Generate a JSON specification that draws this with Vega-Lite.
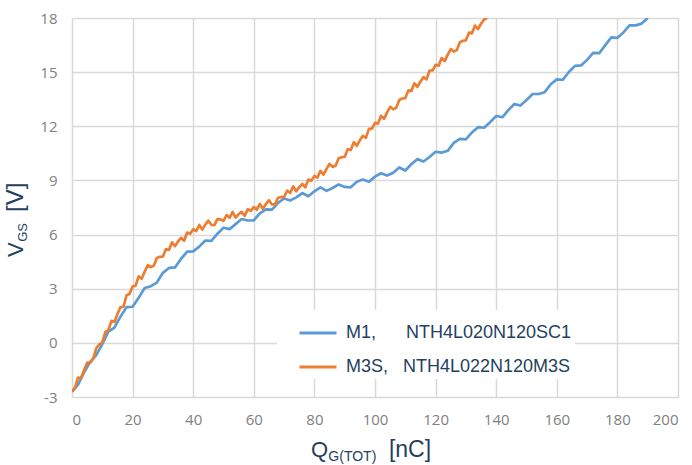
{
  "$schema": "https://vega.github.io/schema/vega-lite/v6.json",
  "width": 606,
  "height": 379,
  "autosize": {"type": "none"},
  "padding": {"left": 72, "top": 18, "right": 14, "bottom": 68},
  "background": "white",
  "config": {"view": {"stroke": null}, "font": "Liberation Sans"},
  "datasets": {
    "curves": [
      {"q":0,"v":-2.7,"s":"M1"},{"q":2,"v":-2.32,"s":"M1"},{"q":4,"v":-1.64,"s":"M1"},{"q":6,"v":-1.05,"s":"M1"},{"q":8,"v":-0.68,"s":"M1"},{"q":10,"v":-0.07,"s":"M1"},{"q":12,"v":0.62,"s":"M1"},{"q":14,"v":0.85,"s":"M1"},{"q":16,"v":1.45,"s":"M1"},{"q":18,"v":1.98,"s":"M1"},
      {"q":20,"v":2.0,"s":"M1"},{"q":22,"v":2.5,"s":"M1"},{"q":24,"v":3.04,"s":"M1"},{"q":26,"v":3.14,"s":"M1"},{"q":28,"v":3.34,"s":"M1"},{"q":30,"v":3.88,"s":"M1"},{"q":32,"v":4.15,"s":"M1"},{"q":34,"v":4.18,"s":"M1"},{"q":36,"v":4.66,"s":"M1"},{"q":38,"v":5.05,"s":"M1"},
      {"q":40,"v":5.07,"s":"M1"},{"q":42,"v":5.33,"s":"M1"},{"q":44,"v":5.67,"s":"M1"},{"q":46,"v":5.65,"s":"M1"},{"q":48,"v":6.05,"s":"M1"},{"q":50,"v":6.38,"s":"M1"},{"q":52,"v":6.3,"s":"M1"},{"q":54,"v":6.58,"s":"M1"},{"q":56,"v":6.86,"s":"M1"},{"q":58,"v":6.78,"s":"M1"},
      {"q":60,"v":6.79,"s":"M1"},{"q":62,"v":7.18,"s":"M1"},{"q":64,"v":7.4,"s":"M1"},{"q":66,"v":7.38,"s":"M1"},{"q":68,"v":7.76,"s":"M1"},{"q":70,"v":8.0,"s":"M1"},{"q":72,"v":7.89,"s":"M1"},{"q":74,"v":8.06,"s":"M1"},{"q":76,"v":8.3,"s":"M1"},{"q":78,"v":8.12,"s":"M1"},
      {"q":80,"v":8.4,"s":"M1"},{"q":82,"v":8.62,"s":"M1"},{"q":84,"v":8.42,"s":"M1"},{"q":86,"v":8.58,"s":"M1"},{"q":88,"v":8.78,"s":"M1"},{"q":90,"v":8.64,"s":"M1"},{"q":92,"v":8.62,"s":"M1"},{"q":94,"v":8.93,"s":"M1"},{"q":96,"v":9.05,"s":"M1"},{"q":98,"v":8.93,"s":"M1"},
      {"q":100,"v":9.21,"s":"M1"},{"q":102,"v":9.4,"s":"M1"},{"q":104,"v":9.27,"s":"M1"},{"q":106,"v":9.43,"s":"M1"},{"q":108,"v":9.72,"s":"M1"},{"q":110,"v":9.55,"s":"M1"},{"q":112,"v":9.9,"s":"M1"},{"q":114,"v":10.18,"s":"M1"},{"q":116,"v":10.05,"s":"M1"},{"q":118,"v":10.3,"s":"M1"},
      {"q":120,"v":10.59,"s":"M1"},{"q":122,"v":10.54,"s":"M1"},{"q":124,"v":10.64,"s":"M1"},{"q":126,"v":11.08,"s":"M1"},{"q":128,"v":11.3,"s":"M1"},{"q":130,"v":11.28,"s":"M1"},{"q":132,"v":11.66,"s":"M1"},{"q":134,"v":11.95,"s":"M1"},{"q":136,"v":11.92,"s":"M1"},{"q":138,"v":12.23,"s":"M1"},
      {"q":140,"v":12.57,"s":"M1"},{"q":142,"v":12.5,"s":"M1"},{"q":144,"v":12.9,"s":"M1"},{"q":146,"v":13.23,"s":"M1"},{"q":148,"v":13.15,"s":"M1"},{"q":150,"v":13.45,"s":"M1"},{"q":152,"v":13.79,"s":"M1"},{"q":154,"v":13.79,"s":"M1"},{"q":156,"v":13.89,"s":"M1"},{"q":158,"v":14.33,"s":"M1"},
      {"q":160,"v":14.6,"s":"M1"},{"q":162,"v":14.58,"s":"M1"},{"q":164,"v":15.01,"s":"M1"},{"q":166,"v":15.35,"s":"M1"},{"q":168,"v":15.37,"s":"M1"},{"q":170,"v":15.68,"s":"M1"},{"q":172,"v":16.07,"s":"M1"},{"q":174,"v":16.05,"s":"M1"},{"q":176,"v":16.5,"s":"M1"},{"q":178,"v":16.93,"s":"M1"},
      {"q":180,"v":16.9,"s":"M1"},{"q":182,"v":17.2,"s":"M1"},{"q":184,"v":17.59,"s":"M1"},{"q":186,"v":17.59,"s":"M1"},{"q":188,"v":17.69,"s":"M1"},{"q":190,"v":18.0,"s":"M1"},
      {"q":0,"v":-2.7,"s":"M3S"},{"q":1,"v":-2.48,"s":"M3S"},{"q":2,"v":-1.92,"s":"M3S"},{"q":3,"v":-1.95,"s":"M3S"},{"q":4,"v":-1.5,"s":"M3S"},{"q":5,"v":-1.1,"s":"M3S"},{"q":6,"v":-1.1,"s":"M3S"},{"q":7,"v":-0.88,"s":"M3S"},{"q":8,"v":-0.3,"s":"M3S"},{"q":9,"v":-0.08,"s":"M3S"},
      {"q":10,"v":0.03,"s":"M3S"},{"q":11,"v":0.6,"s":"M3S"},{"q":12,"v":0.7,"s":"M3S"},{"q":13,"v":1.22,"s":"M3S"},{"q":14,"v":1.16,"s":"M3S"},{"q":15,"v":1.6,"s":"M3S"},{"q":16,"v":1.98,"s":"M3S"},{"q":17,"v":2.0,"s":"M3S"},{"q":18,"v":2.63,"s":"M3S"},{"q":19,"v":2.72,"s":"M3S"},
      {"q":20,"v":3.12,"s":"M3S"},{"q":21,"v":3.17,"s":"M3S"},{"q":22,"v":3.68,"s":"M3S"},{"q":23,"v":3.55,"s":"M3S"},{"q":24,"v":3.95,"s":"M3S"},{"q":25,"v":4.3,"s":"M3S"},{"q":26,"v":4.2,"s":"M3S"},{"q":27,"v":4.27,"s":"M3S"},{"q":28,"v":4.7,"s":"M3S"},{"q":29,"v":4.77,"s":"M3S"},
      {"q":30,"v":4.78,"s":"M3S"},{"q":31,"v":5.2,"s":"M3S"},{"q":32,"v":5.15,"s":"M3S"},{"q":33,"v":5.57,"s":"M3S"},{"q":34,"v":5.36,"s":"M3S"},{"q":35,"v":5.62,"s":"M3S"},{"q":36,"v":5.82,"s":"M3S"},{"q":37,"v":5.66,"s":"M3S"},{"q":38,"v":6.11,"s":"M3S"},{"q":39,"v":6.05,"s":"M3S"},
      {"q":40,"v":6.3,"s":"M3S"},{"q":41,"v":6.19,"s":"M3S"},{"q":42,"v":6.53,"s":"M3S"},{"q":43,"v":6.28,"s":"M3S"},{"q":44,"v":6.55,"s":"M3S"},{"q":45,"v":6.77,"s":"M3S"},{"q":46,"v":6.54,"s":"M3S"},{"q":47,"v":6.52,"s":"M3S"},{"q":48,"v":6.86,"s":"M3S"},{"q":49,"v":6.84,"s":"M3S"},
      {"q":50,"v":6.76,"s":"M3S"},{"q":51,"v":7.08,"s":"M3S"},{"q":52,"v":6.93,"s":"M3S"},{"q":53,"v":7.25,"s":"M3S"},{"q":54,"v":6.94,"s":"M3S"},{"q":55,"v":7.13,"s":"M3S"},{"q":56,"v":7.26,"s":"M3S"},{"q":57,"v":7.03,"s":"M3S"},{"q":58,"v":7.41,"s":"M3S"},{"q":59,"v":7.31,"s":"M3S"},
      {"q":60,"v":7.52,"s":"M3S"},{"q":61,"v":7.38,"s":"M3S"},{"q":62,"v":7.7,"s":"M3S"},{"q":63,"v":7.43,"s":"M3S"},{"q":64,"v":7.69,"s":"M3S"},{"q":65,"v":7.9,"s":"M3S"},{"q":66,"v":7.67,"s":"M3S"},{"q":67,"v":7.67,"s":"M3S"},{"q":68,"v":8.04,"s":"M3S"},{"q":69,"v":8.08,"s":"M3S"},
      {"q":70,"v":8.08,"s":"M3S"},{"q":71,"v":8.43,"s":"M3S"},{"q":72,"v":8.31,"s":"M3S"},{"q":73,"v":8.67,"s":"M3S"},{"q":74,"v":8.4,"s":"M3S"},{"q":75,"v":8.63,"s":"M3S"},{"q":76,"v":8.8,"s":"M3S"},{"q":77,"v":8.62,"s":"M3S"},{"q":78,"v":9.05,"s":"M3S"},{"q":79,"v":8.99,"s":"M3S"},
      {"q":80,"v":9.25,"s":"M3S"},{"q":81,"v":9.16,"s":"M3S"},{"q":82,"v":9.53,"s":"M3S"},{"q":83,"v":9.32,"s":"M3S"},{"q":84,"v":9.64,"s":"M3S"},{"q":85,"v":9.91,"s":"M3S"},{"q":86,"v":9.75,"s":"M3S"},{"q":87,"v":9.81,"s":"M3S"},{"q":88,"v":10.23,"s":"M3S"},{"q":89,"v":10.29,"s":"M3S"},
      {"q":90,"v":10.3,"s":"M3S"},{"q":91,"v":10.73,"s":"M3S"},{"q":92,"v":10.69,"s":"M3S"},{"q":93,"v":11.12,"s":"M3S"},{"q":94,"v":10.92,"s":"M3S"},{"q":95,"v":11.22,"s":"M3S"},{"q":96,"v":11.47,"s":"M3S"},{"q":97,"v":11.36,"s":"M3S"},{"q":98,"v":11.86,"s":"M3S"},{"q":99,"v":11.87,"s":"M3S"},
      {"q":100,"v":12.19,"s":"M3S"},{"q":101,"v":12.15,"s":"M3S"},{"q":102,"v":12.58,"s":"M3S"},{"q":103,"v":12.41,"s":"M3S"},{"q":104,"v":12.77,"s":"M3S"},{"q":105,"v":13.08,"s":"M3S"},{"q":106,"v":12.94,"s":"M3S"},{"q":107,"v":13.02,"s":"M3S"},{"q":108,"v":13.46,"s":"M3S"},{"q":109,"v":13.54,"s":"M3S"},
      {"q":110,"v":13.56,"s":"M3S"},{"q":111,"v":13.99,"s":"M3S"},{"q":112,"v":13.95,"s":"M3S"},{"q":113,"v":14.38,"s":"M3S"},{"q":114,"v":14.18,"s":"M3S"},{"q":115,"v":14.48,"s":"M3S"},{"q":116,"v":14.72,"s":"M3S"},{"q":117,"v":14.6,"s":"M3S"},{"q":118,"v":15.09,"s":"M3S"},{"q":119,"v":15.09,"s":"M3S"},
      {"q":120,"v":15.4,"s":"M3S"},{"q":121,"v":15.36,"s":"M3S"},{"q":122,"v":15.78,"s":"M3S"},{"q":123,"v":15.61,"s":"M3S"},{"q":124,"v":15.97,"s":"M3S"},{"q":125,"v":16.28,"s":"M3S"},{"q":126,"v":16.14,"s":"M3S"},{"q":127,"v":16.22,"s":"M3S"},{"q":128,"v":16.66,"s":"M3S"},{"q":129,"v":16.74,"s":"M3S"},
      {"q":130,"v":16.76,"s":"M3S"},{"q":131,"v":17.19,"s":"M3S"},{"q":132,"v":17.15,"s":"M3S"},{"q":133,"v":17.58,"s":"M3S"},{"q":134,"v":17.38,"s":"M3S"},{"q":135,"v":17.68,"s":"M3S"},{"q":136,"v":17.92,"s":"M3S"},{"q":137,"v":18.0,"s":"M3S"}
    ]
  },
  "layer": [
    {
      "data": {"name": "curves"},
      "mark": {"type": "line", "clip": true, "strokeWidth": 2.7, "strokeJoin": "round"},
      "encoding": {
        "x": {
          "field": "q", "type": "quantitative",
          "scale": {"domain": [0, 200], "nice": false, "zero": false},
          "axis": {
            "title": null, "values": [0,20,40,60,80,100,120,140,160,180,200],
            "grid": true, "gridColor": "#d9d9d9", "gridWidth": 1.5,
            "domain": false, "ticks": false, "tickSize": 0, "labelPadding": 15,
            "labelFont": "Open Sans", "labelFontSize": 15, "labelColor": "#808080"
          }
        },
        "y": {
          "field": "v", "type": "quantitative",
          "scale": {"domain": [-3, 18], "nice": false, "zero": false},
          "axis": {
            "title": null, "values": [-3,0,3,6,9,12,15,18],
            "labelExpr": "'' + datum.value",
            "grid": true, "gridColor": "#d9d9d9", "gridWidth": 1.5,
            "domain": false, "ticks": false, "tickSize": 0, "labelPadding": 15,
            "labelFont": "Open Sans", "labelFontSize": 15, "labelColor": "#808080"
          }
        },
        "color": {
          "field": "s", "type": "nominal",
          "scale": {"domain": ["M1", "M3S"], "range": ["#5B9BD5", "#ED7D31"]},
          "legend": {
            "title": null, "orient": "none", "legendX": 205, "legendY": 292,
            "fillColor": "white", "padding": 3,
            "symbolType": "stroke", "symbolSize": 1369, "symbolStrokeWidth": 3, "symbolOffset": 18,
            "labelFont": "Liberation Sans", "labelFontSize": 18, "labelColor": "#243f60",
            "labelLimit": 600, "labelOffset": 8, "rowPadding": 5,
            "labelExpr": "datum.label == 'M1' ? 'M1,\u00a0\u00a0\u00a0\u00a0\u00a0\u00a0NTH4L020N120SC1\u00a0\u00a0\u00a0\u00a0\u00a0\u00a0\u00a0\u00a0\u00a0\u00a0\u00a0\u00a0\u00a0\u00a0\u00a0\u00a0\u00a0\u00a0\u00a0\u00a0' : 'M3S,\u00a0\u00a0\u00a0NTH4L022N120M3S\u00a0\u00a0\u00a0\u00a0\u00a0\u00a0\u00a0\u00a0\u00a0\u00a0\u00a0\u00a0\u00a0\u00a0\u00a0\u00a0\u00a0\u00a0\u00a0\u00a0'"
          }
        }
      }
    },
    {
      "data": {"values": [{}]},
      "mark": {"type": "text", "align": "left", "baseline": "alphabetic", "font": "Liberation Sans", "fontSize": 22, "color": "#243f60"},
      "encoding": {"x": {"datum": 78.9, "type": "quantitative"}, "y": {"datum": -6.32, "type": "quantitative"}, "text": {"value": "Q"}}
    },
    {
      "data": {"values": [{}]},
      "mark": {"type": "text", "align": "left", "baseline": "alphabetic", "font": "Liberation Sans", "fontSize": 14, "color": "#243f60"},
      "encoding": {"x": {"datum": 84.6, "type": "quantitative"}, "y": {"datum": -6.54, "type": "quantitative"}, "text": {"value": "G(TOT)"}}
    },
    {
      "data": {"values": [{}]},
      "mark": {"type": "text", "align": "left", "baseline": "alphabetic", "font": "Liberation Sans", "fontSize": 23, "color": "#243f60"},
      "encoding": {"x": {"datum": 104.6, "type": "quantitative"}, "y": {"datum": -6.32, "type": "quantitative"}, "text": {"value": "[nC]"}}
    },
    {
      "data": {"values": [{}]},
      "mark": {"type": "text", "align": "left", "baseline": "alphabetic", "angle": 270, "font": "Liberation Sans", "fontSize": 22, "color": "#243f60"},
      "encoding": {"x": {"datum": -16.2, "type": "quantitative"}, "y": {"datum": 4.76, "type": "quantitative"}, "text": {"value": "V"}}
    },
    {
      "data": {"values": [{}]},
      "mark": {"type": "text", "align": "left", "baseline": "alphabetic", "angle": 270, "font": "Liberation Sans", "fontSize": 13, "color": "#243f60"},
      "encoding": {"x": {"datum": -14.7, "type": "quantitative"}, "y": {"datum": 5.6, "type": "quantitative"}, "text": {"value": "GS"}}
    },
    {
      "data": {"values": [{}]},
      "mark": {"type": "text", "align": "left", "baseline": "alphabetic", "angle": 270, "font": "Liberation Sans", "fontSize": 24, "color": "#243f60"},
      "encoding": {"x": {"datum": -16.2, "type": "quantitative"}, "y": {"datum": 7.25, "type": "quantitative"}, "text": {"value": "[V]"}}
    }
  ]
}
